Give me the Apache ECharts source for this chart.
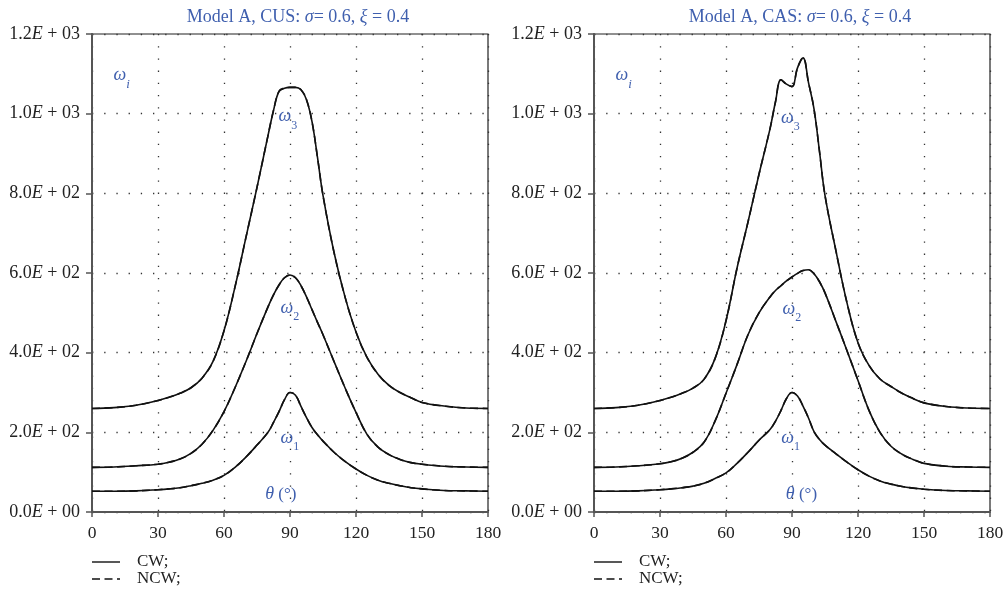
<!DOCTYPE html>
<html>
<head>
<meta charset="utf-8">
<script src="https://cdn.jsdelivr.net/npm/echarts/dist/echarts.min.js"></script>
<style>html,body{margin:0;padding:0;background:#fff}#c{width:1008px;height:590px}</style>
</head>
<body>
<div id="c"></div>
<script>
// ---- data ----
const theta = [0,10,20,30,35,40,45,50,55,60,65,70,75,80,82.5,85,87.5,90,92.5,95,97.5,100,102.5,105,110,115,120,125,130,135,140,145,150,160,170,180];

const cusW3 = [260,262,268,280,288,298,312,336,378,455,565,690,815,945,1008,1056,1064,1066,1066,1060,1035,980,890,795,652,540,452,388,346,318,300,287,275,266,261,260];
const cusW2 = [112,113,116,120,125,133,147,170,205,252,312,378,448,515,545,570,588,595,588,568,540,508,476,445,378,312,250,195,163,144,132,124,120,115,113,112];
const cusW1 = [52,52,53,56,58,61,66,72,80,92,112,138,168,200,225,252,282,300,293,265,237,212,194,178,150,127,108,92,80,72,66,61,58,54,53,52];

const casW3 = [260,262,268,280,288,298,311,333,385,480,612,728,848,962,1030,1085,1074,1068,1115,1140,1078,1012,905,795,655,525,425,368,334,315,298,285,274,265,261,260];
const casW2 = [112,113,116,121,126,135,150,175,228,298,370,445,500,540,556,568,580,590,599,606,608,598,578,550,478,405,330,255,200,165,145,132,122,115,113,112];
const casW1 = [52,52,53,56,58,61,65,72,84,98,122,150,180,207,228,255,285,300,291,266,236,202,182,168,146,125,106,90,78,70,64,60,57,54,53,52];

// NCW curves coincide with CW curves at this scale
const cusN3 = cusW3, cusN2 = cusW2, cusN1 = cusW1;
const casN3 = casW3, casN2 = casW2, casN1 = casW1;

const yTickText = ['0.0E + 00','2.0E + 02','4.0E + 02','6.0E + 02','8.0E + 02','1.0E + 03','1.2E + 03'];
const panelTitles = [['Model A, CUS: ','σ','= 0.6, ','ξ',' = 0.4'],['Model A, CAS: ','σ','= 0.6, ','ξ',' = 0.4']];
const legendNames = ['CW;','NCW;'];

// ---- chart ----
const FONT = "'Liberation Serif','DejaVu Serif',serif";
const BLUE = '#3f5fae';
const SOLID = 'solid', DASH = [8,4.5];
const chart = echarts.init(document.getElementById('c'), null, {renderer:'canvas'});

const grids = [
  {left:92, top:34, width:396, height:478},
  {left:594, top:34, width:396, height:478}
];

function mkX(gi){
  return {type:'value', gridIndex:gi, min:0, max:180, interval:30,
    axisLine:{show:true, onZero:false, lineStyle:{color:'#555', width:2}},
    axisTick:{show:true, length:5, lineStyle:{color:'#555', width:1.5}},
    axisLabel:{margin:12, fontFamily:FONT, fontSize:17.5, color:'#222'},
    splitLine:{show:true, lineStyle:{color:'#333', width:1.3, type:[1.3,10.9]}}};
}
function mkY(gi){
  return {type:'value', gridIndex:gi, min:0, max:1200, interval:200,
    axisLine:{show:true, onZero:false, lineStyle:{color:'#555', width:2}},
    axisTick:{show:true, length:6, lineStyle:{color:'#555', width:1.5}},
    axisLabel:{margin:12, formatter:function(v){
        const s = yTickText[Math.round(v/200)];
        const p = s.split('E');
        return '{n|'+p[0]+'}{e|E}{n|'+p[1]+'}';
      },
      rich:{n:{fontFamily:FONT, fontSize:18, color:'#222'}, e:{fontFamily:FONT, fontSize:18, fontStyle:'italic', color:'#222'}}},
    splitLine:{show:true, lineStyle:{color:'#333', width:1.3, type:[1.3,10.9]}}};
}
function ser(name, arr, gi, dashed){
  return {name:name, type:'line', xAxisIndex:gi, yAxisIndex:gi,
    data: theta.map(function(t,i){return [t, arr[i]];}),
    symbol:'none', smooth:0.4, silent:true, z: dashed?4:3,
    lineStyle:{color:'#111', width:1.6, type: dashed?DASH:SOLID},
    itemStyle:{color:'#111'}};
}

const series = [
  ser('CW;', cusW3, 0, false), ser('CW;', cusW2, 0, false), ser('CW;', cusW1, 0, false),
  ser('NCW;', cusN3, 0, true), ser('NCW;', cusN2, 0, true), ser('NCW;', cusN1, 0, true),
  ser('CW;', casW3, 1, false), ser('CW;', casW2, 1, false), ser('CW;', casW1, 1, false),
  ser('NCW;', casN3, 1, true), ser('NCW;', casN2, 1, true), ser('NCW;', casN1, 1, true)
];

chart.setOption({
  animation:false,
  backgroundColor:'#fff',
  grid: grids.map(function(g){ return Object.assign({show:true, borderColor:'#222', borderWidth:1.2, containLabel:false, outerBoundsMode:'none'}, g); }),
  xAxis:[mkX(0), mkX(1)],
  yAxis:[mkY(0), mkY(1)],
  series: series
});

// ---- annotations (placed in data coordinates) ----
const annot = [
  {g:0, at:[13.5,1088], t:'{w|ω}{si|i}'},
  {g:0, at:[89,985], t:'{w|ω}{s|3}'},
  {g:0, at:[89.9,505], t:'{w|ω}{s|2}'},
  {g:0, at:[89.9,178], t:'{w|ω}{s|1}'},
  {g:0, at:[85.8,36], t:'{w|θ}{n| (°)}'},
  {g:1, at:[13.5,1088], t:'{w|ω}{si|i}'},
  {g:1, at:[89.3,982], t:'{w|ω}{s|3}'},
  {g:1, at:[89.9,502], t:'{w|ω}{s|2}'},
  {g:1, at:[89.4,178], t:'{w|ω}{s|1}'},
  {g:1, at:[94.3,36], t:'{w|θ}{n| (°)}'}
];
const rich = {
  w:{fontFamily:FONT, fontSize:18, fontStyle:'italic', fill:BLUE, color:BLUE, verticalAlign:'top', lineHeight:24},
  s:{fontFamily:FONT, fontSize:12, fill:BLUE, color:BLUE, verticalAlign:'bottom', lineHeight:24},
  si:{fontFamily:FONT, fontSize:13, fontStyle:'italic', fill:BLUE, color:BLUE, verticalAlign:'bottom', lineHeight:24},
  n:{fontFamily:FONT, fontSize:17, fill:BLUE, color:BLUE, verticalAlign:'top', lineHeight:24}
};
const graphics = annot.map(function(a){
  const p = chart.convertToPixel({gridIndex:a.g}, a.at);
  return {type:'text', x:p[0], y:p[1], z:10, silent:true,
    style:{text:a.t, rich:rich, align:'center', verticalAlign:'middle'}};
});
panelTitles.forEach(function(pt, gi){
  const cx = grids[gi].left + grids[gi].width/2 + 8;
  graphics.push({type:'text', x:cx, y:17, z:10, silent:true,
    style:{text:'{n|'+pt[0]+'}{i|'+pt[1]+'}{n|'+pt[2]+'}{i|'+pt[3]+'}{n|'+pt[4]+'}', align:'center', verticalAlign:'middle',
      rich:{n:{fontFamily:FONT, fontSize:18, fill:BLUE, color:BLUE}, i:{fontFamily:FONT, fontSize:18, fontStyle:'italic', fill:BLUE, color:BLUE}}}});
});
// legend (one per panel), built from the legend names and the series line styles
grids.forEach(function(g){
  legendNames.forEach(function(nm, k){
    const y = 562 + k*17;
    graphics.push({type:'line', silent:true, z:10,
      shape:{x1:g.left, y1:y, x2:g.left+28, y2:y},
      style:{stroke:'#111', lineWidth:1.4, lineDash: k ? DASH : null}});
    graphics.push({type:'text', silent:true, z:10, x:g.left+45, y:y,
      style:{text:nm, fontFamily:FONT, fontSize:17, fill:'#222', align:'left', verticalAlign:'middle'}});
  });
});
chart.setOption({graphic: graphics});
</script>
</body>
</html>
